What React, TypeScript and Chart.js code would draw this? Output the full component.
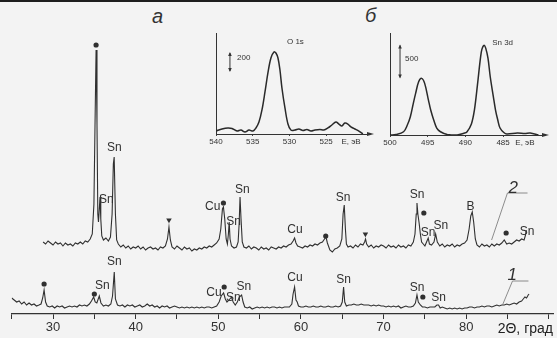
import React, { useEffect, useRef } from "react";
import { Chart, registerables } from "chart.js";

Chart.register(...registerables);

const FONT = "'Liberation Sans', Arial, sans-serif";
const INK = "#303030";

// ---------- main XRD patterns: [2θ (deg), intensity (arb. units)] ----------
const pattern2: [number, number][] = [
  [28.8, 72], [29.1, 70], [29.4, 73], [29.7, 71], [30.0, 69], [30.3, 72], [30.6, 70], [30.9, 71],
  [31.2, 68], [31.5, 71], [31.8, 69], [32.1, 70], [32.4, 68], [32.7, 71], [33.0, 70], [33.3, 72],
  [33.6, 70], [33.9, 73], [34.2, 72], [34.5, 75], [34.75, 80], [34.95, 110], [35.1, 200], [35.21, 264],
  [35.32, 190], [35.42, 100], [35.5, 92], [35.6, 105], [35.69, 117], [35.78, 95], [35.9, 78], [36.1, 74],
  [36.4, 76], [36.7, 73], [36.95, 77], [37.15, 100], [37.3, 150], [37.4, 157], [37.55, 100], [37.7, 74],
  [37.9, 70], [38.2, 67], [38.5, 69], [38.8, 66], [39.1, 68], [39.4, 65], [39.7, 67], [40.0, 66],
  [40.3, 68], [40.6, 65], [40.9, 67], [41.2, 64], [41.5, 66], [41.8, 67], [42.1, 65], [42.4, 66],
  [42.7, 64], [43.0, 67], [43.3, 66], [43.6, 68], [43.85, 75], [44.03, 87], [44.2, 74], [44.4, 67],
  [44.7, 65], [45.0, 68], [45.3, 66], [45.6, 64], [45.9, 67], [46.2, 65], [46.5, 66], [46.8, 63],
  [47.1, 65], [47.4, 64], [47.7, 66], [48.0, 65], [48.3, 67], [48.6, 66], [48.9, 68], [49.2, 67],
  [49.5, 69], [49.8, 71], [50.1, 75], [50.3, 85], [50.5, 105], [50.62, 107], [50.78, 95], [50.95, 75],
  [51.1, 70], [51.22, 80], [51.32, 92], [51.42, 75], [51.6, 68], [51.9, 66], [52.2, 67], [52.4, 72],
  [52.52, 90], [52.63, 117], [52.75, 95], [52.9, 72], [53.1, 67], [53.4, 66], [53.7, 68], [54.0, 65],
  [54.3, 67], [54.6, 66], [54.9, 64], [55.2, 67], [55.5, 65], [55.8, 66], [56.1, 64], [56.4, 67],
  [56.7, 66], [57.0, 65], [57.3, 67], [57.6, 66], [57.9, 68], [58.2, 67], [58.5, 69], [58.8, 70],
  [59.05, 73], [59.23, 76], [59.4, 71], [59.6, 68], [59.9, 67], [60.2, 66], [60.5, 68], [60.8, 67],
  [61.1, 69], [61.4, 68], [61.7, 70], [62.0, 69], [62.3, 71], [62.6, 72], [62.85, 75], [63.03, 77],
  [63.2, 71], [63.5, 64], [63.8, 62], [64.1, 65], [64.4, 66], [64.7, 68], [64.95, 75], [65.1, 100],
  [65.24, 109], [65.38, 85], [65.5, 70], [65.7, 67], [66.0, 68], [66.3, 66], [66.6, 69], [66.9, 67],
  [67.2, 70], [67.5, 69], [67.7, 72], [67.82, 75], [67.95, 70], [68.2, 67], [68.5, 69], [68.8, 66],
  [69.1, 68], [69.4, 67], [69.7, 69], [70.0, 68], [70.3, 66], [70.6, 69], [70.9, 67], [71.2, 68],
  [71.5, 66], [71.8, 69], [72.1, 67], [72.4, 68], [72.7, 66], [73.0, 69], [73.3, 68], [73.6, 72],
  [73.8, 80], [73.95, 100], [74.04, 111], [74.15, 100], [74.3, 91], [74.45, 80], [74.6, 72], [74.8, 70],
  [75.0, 68], [75.2, 72], [75.4, 76], [75.55, 70], [75.8, 69], [76.1, 72], [76.3, 80], [76.5, 72],
  [76.8, 68], [77.1, 70], [77.4, 67], [77.7, 69], [78.0, 68], [78.3, 70], [78.6, 67], [78.9, 69],
  [79.2, 68], [79.5, 70], [79.8, 71], [80.1, 74], [80.35, 85], [80.55, 98], [80.73, 102], [80.9, 92],
  [81.1, 75], [81.3, 69], [81.6, 67], [81.9, 70], [82.2, 68], [82.5, 69], [82.8, 67], [83.1, 70],
  [83.4, 68], [83.7, 70], [84.0, 69], [84.3, 71], [84.6, 74], [84.9, 70], [85.2, 71], [85.5, 70],
  [85.8, 72], [86.1, 74], [86.4, 73], [86.7, 75], [87.0, 74], [87.15, 78], [87.26, 84],
];

const pattern1: [number, number][] = [
  [25.0, 16], [25.3, 14], [25.6, 12], [25.9, 13], [26.2, 10], [26.5, 12], [26.8, 9], [27.1, 11],
  [27.4, 9], [27.7, 10], [28.0, 8], [28.3, 9], [28.55, 10], [28.75, 16], [28.92, 24], [29.1, 12],
  [29.3, 8], [29.6, 7], [29.9, 8], [30.2, 6], [30.5, 8], [30.8, 7], [31.1, 8], [31.4, 6],
  [31.7, 7], [32.0, 8], [32.3, 7], [32.6, 8], [32.9, 7], [33.2, 9], [33.5, 8], [33.8, 9],
  [34.1, 8], [34.4, 10], [34.65, 13], [34.92, 17], [35.1, 12], [35.3, 11], [35.6, 18], [35.8, 11],
  [36.1, 8], [36.4, 9], [36.7, 8], [37.0, 10], [37.2, 18], [37.41, 42], [37.55, 15], [37.8, 9],
  [38.1, 8], [38.4, 9], [38.7, 7], [39.0, 9], [39.3, 8], [39.6, 9], [39.9, 7], [40.2, 8],
  [40.5, 9], [40.8, 7], [41.1, 8], [41.4, 10], [41.7, 8], [42.0, 9], [42.3, 7], [42.6, 8],
  [42.9, 6], [43.2, 8], [43.5, 7], [43.8, 8], [44.1, 6], [44.4, 7], [44.7, 8], [45.0, 7],
  [45.3, 6], [45.6, 7], [45.9, 6], [46.2, 7], [46.5, 6], [46.8, 7], [47.1, 6], [47.4, 7],
  [47.7, 6], [48.0, 7], [48.3, 6], [48.6, 7], [48.9, 7], [49.2, 6], [49.5, 7], [49.8, 8],
  [50.1, 12], [50.35, 18], [50.64, 21], [50.85, 15], [51.05, 12], [51.3, 14], [51.6, 17], [51.8, 12],
  [52.05, 9], [52.3, 12], [52.55, 17], [52.82, 19], [53.0, 12], [53.2, 7], [53.5, 6], [53.8, 7],
  [54.1, 5], [54.4, 6], [54.7, 7], [55.0, 6], [55.3, 7], [55.6, 6], [55.9, 7], [56.2, 6],
  [56.5, 7], [56.8, 7], [57.1, 6], [57.4, 7], [57.7, 6], [58.0, 7], [58.3, 7], [58.6, 7],
  [58.9, 10], [59.05, 20], [59.23, 27], [59.4, 14], [59.55, 12], [59.7, 8], [60.0, 7], [60.3, 7],
  [60.6, 8], [60.9, 7], [61.2, 7], [61.5, 8], [61.8, 7], [62.1, 7], [62.4, 8], [62.7, 7],
  [63.0, 7], [63.3, 8], [63.6, 7], [63.9, 7], [64.2, 8], [64.5, 7], [64.8, 8], [65.0, 12],
  [65.16, 27], [65.3, 12], [65.5, 8], [65.8, 9], [66.1, 9], [66.4, 10], [66.7, 9], [67.0, 9],
  [67.3, 10], [67.6, 9], [67.9, 9], [68.2, 9], [68.5, 8], [68.8, 9], [69.1, 8], [69.4, 9],
  [69.7, 8], [70.0, 8], [70.3, 7], [70.6, 8], [70.9, 7], [71.2, 8], [71.5, 7], [71.8, 8],
  [72.1, 6], [72.4, 7], [72.7, 8], [73.0, 7], [73.3, 7], [73.6, 8], [73.85, 11], [74.04, 19],
  [74.2, 12], [74.45, 9], [74.7, 7], [75.0, 7], [75.3, 6], [75.6, 7], [75.9, 7], [76.2, 7],
  [76.45, 9], [76.65, 9], [76.85, 6], [77.1, 7], [77.4, 6], [77.7, 5], [78.0, 6], [78.3, 5],
  [78.6, 6], [78.9, 5], [79.2, 6], [79.5, 5], [79.8, 6], [80.1, 6], [80.4, 7], [80.7, 7],
  [81.0, 6], [81.3, 7], [81.6, 7], [81.9, 8], [82.2, 7], [82.5, 8], [82.8, 8], [83.1, 7],
  [83.4, 8], [83.7, 9], [84.0, 8], [84.3, 9], [84.6, 9], [84.9, 10], [85.2, 9], [85.5, 10],
  [85.8, 11], [86.1, 10], [86.4, 12], [86.7, 13], [86.9, 15], [87.1, 17], [87.3, 16], [87.5, 19],
  [87.6, 20],
];

const xrdTickValues = [25, 30, 35, 40, 45, 50, 55, 60, 65, 70, 75, 80, 85, 90];
const xrdTickLabels = [30, 40, 50, 60, 70, 80];

// phase labels: [2θ, intensity, text]
const phaseLabels2: [number, number, string][] = [
  [37.42, 166, "Sn"], [36.45, 114, "Sn"], [49.32, 107, "Cu"], [51.84, 92, "Sn"], [52.9, 124, "Sn"],
  [59.27, 84, "Cu"], [65.1, 116, "Sn"], [74.04, 119, "Sn"], [75.39, 81, "Sn"], [76.92, 88, "Sn"],
  [80.53, 107, "B"], [87.35, 82, "Sn"],
];
const phaseLabels1: [number, number, string][] = [
  [35.96, 28, "Sn"], [37.42, 52, "Sn"], [49.48, 21, "Cu"], [51.82, 16, "Sn"], [53.08, 27, "Sn"],
  [59.27, 36, "Cu"], [65.15, 34, "Sn"], [74.04, 26, "Sn"], [76.67, 16, "Sn"],
];
const dotMarks: [number, number][] = [
  [35.21, 269], [50.62, 111], [63.0, 78], [74.87, 101], [84.83, 81],
  [28.92, 30], [35.0, 20], [50.71, 27], [74.75, 17],
];
const triangleMarks: [number, number][] = [[44.03, 94], [67.8, 80]];
const curveNames: [number, number, string][] = [[85.7, 126, "2"], [85.58, 39, "1"]];
const leader2: [number, number][] = [[87.42, 121], [84.99, 121], [83.07, 74]];
const leader1: [number, number][] = [[87.53, 33], [85.6, 33], [84.39, 9]];

// ---------- XPS insets: [binding energy (eV), counts] ----------
const o1sSpectrum: [number, number][] = [
  [540.0, 33], [539.18, 56], [538.37, 67], [537.82, 61], [537.14, 33], [536.6, 44], [536.05, 22],
  [535.51, 44], [534.97, 33], [534.56, 67], [534.15, 133], [533.74, 267], [533.33, 467], [532.93, 678],
  [532.52, 844], [532.11, 911], [531.84, 900], [531.56, 844], [531.29, 711], [531.02, 511], [530.61, 289],
  [530.2, 111], [529.8, 44], [529.25, 44], [528.71, 56], [528.16, 39], [527.62, 50], [527.07, 33],
  [526.53, 44], [525.85, 50], [525.31, 44], [524.76, 67], [524.22, 100], [523.67, 133], [523.27, 111],
  [522.86, 89], [522.45, 122], [522.04, 111], [521.63, 78], [521.09, 56], [520.54, 33], [520.0, 0],
];
const sn3dSpectrum: [number, number][] = [
  [500.0, 0], [499.2, 8], [498.2, 51], [497.7, 156], [497.3, 285], [496.9, 499], [496.6, 650],
  [496.2, 831], [495.8, 885], [495.4, 807], [494.9, 546], [494.6, 390], [494.2, 234], [493.8, 109],
  [493.3, 51], [492.4, 8], [491.1, 0], [490.2, 27], [489.8, 47], [489.2, 172], [488.8, 390],
  [488.4, 780], [488.0, 1201], [487.8, 1342], [487.5, 1404], [487.3, 1357], [487.0, 1201], [486.7, 910],
  [486.3, 608], [486.0, 390], [485.7, 234], [485.4, 109], [484.9, 39], [484.5, 16], [483.1, 31],
  [482.1, 23], [481.4, 31], [480.3, 0],
];
const o1sTicks = [540, 535, 530, 525];
const sn3dTicks = [500, 495, 490, 485];

type Pt = [number, number];
const toXY = (arr: Pt[]) => arr.map(([x, y]) => ({ x, y }));

const mainAnnotations = {
  id: "mainAnnotations",
  afterDatasetsDraw(chart: any) {
    const { ctx, scales } = chart;
    const x = scales.x;
    const y = scales.y;
    ctx.save();
    ctx.strokeStyle = "#808080";
    ctx.lineWidth = 0.9;
    [leader2, leader1].forEach((pts) => {
      ctx.beginPath();
      pts.forEach(([a, b], i) => {
        const px = x.getPixelForValue(a);
        const py = y.getPixelForValue(b);
        if (i === 0) ctx.moveTo(px, py);
        else ctx.lineTo(px, py);
      });
      ctx.stroke();
    });
    ctx.fillStyle = INK;
    ctx.textAlign = "center";
    ctx.textBaseline = "middle";
    ctx.font = `12px ${FONT}`;
    [...phaseLabels2, ...phaseLabels1].forEach(([a, b, t]) => {
      ctx.fillText(t, x.getPixelForValue(a), y.getPixelForValue(b));
    });
    ctx.font = `italic 17px ${FONT}`;
    curveNames.forEach(([a, b, t]) => {
      ctx.fillText(t, x.getPixelForValue(a), y.getPixelForValue(b));
    });
    ctx.restore();
  },
};

type InsetOpts = {
  data: Pt[];
  min: number;
  max: number;
  yMax: number;
  ticks: number[];
  area: { left: number; right: number; top: number; bottom: number };
  bar: { x: number; from: number; to: number; label: string; lx: number; ly: number };
  title: { x: number; y: number; text: string };
  unitX: number;
};

function makeInset(canvas: HTMLCanvasElement, o: InsetOpts) {
  const W = 557;
  const H = 338;
  const axisH = 14;
  const plugin = {
    id: "insetDecor",
    afterDatasetsDraw(chart: any) {
      const { ctx, scales, chartArea } = chart;
      const x = scales.x;
      const y = scales.y;
      ctx.save();
      ctx.strokeStyle = "#333";
      ctx.fillStyle = "#333";
      ctx.lineWidth = 1;
      // arrow at the end of the energy axis
      const r = chartArea.right;
      const b = chartArea.bottom;
      ctx.beginPath();
      ctx.moveTo(r - 1, b);
      ctx.lineTo(r + 3, b);
      ctx.stroke();
      ctx.beginPath();
      ctx.moveTo(r + 6, b);
      ctx.lineTo(r - 1, b - 2);
      ctx.lineTo(r - 1, b + 2);
      ctx.closePath();
      ctx.fill();
      // scale bar
      const bx = x.getPixelForValue(o.bar.x);
      const y1 = y.getPixelForValue(o.bar.from);
      const y2 = y.getPixelForValue(o.bar.to);
      ctx.beginPath();
      ctx.moveTo(bx, y1);
      ctx.lineTo(bx, y2);
      ctx.stroke();
      ctx.beginPath();
      ctx.moveTo(bx, y2 - 1);
      ctx.lineTo(bx - 1.8, y2 + 3);
      ctx.lineTo(bx + 1.8, y2 + 3);
      ctx.closePath();
      ctx.fill();
      ctx.beginPath();
      ctx.moveTo(bx, y1 + 1);
      ctx.lineTo(bx - 1.8, y1 - 3);
      ctx.lineTo(bx + 1.8, y1 - 3);
      ctx.closePath();
      ctx.fill();
      ctx.font = `8px ${FONT}`;
      ctx.textAlign = "left";
      ctx.textBaseline = "middle";
      ctx.fillText(o.bar.label, x.getPixelForValue(o.bar.lx), y.getPixelForValue(o.bar.ly));
      ctx.fillText(o.title.text, x.getPixelForValue(o.title.x), y.getPixelForValue(o.title.y));
      ctx.textAlign = "center";
      ctx.fillText("E, эВ", x.getPixelForValue(o.unitX), b + 8);
      ctx.restore();
    },
  };
  return new Chart(canvas, {
    type: "line",
    data: {
      datasets: [
        {
          data: toXY(o.data),
          borderColor: "#2a2a2a",
          borderWidth: 1.5,
          pointRadius: 0,
          tension: 0.35,
          fill: false,
        },
      ],
    },
    options: {
      animation: false,
      responsive: false,
      devicePixelRatio: 1,
      events: [],
      layout: {
        padding: {
          left: o.area.left,
          right: W - o.area.right,
          top: o.area.top,
          bottom: H - o.area.bottom - axisH,
        },
      },
      plugins: { legend: { display: false }, tooltip: { enabled: false }, title: { display: false } },
      scales: {
        x: {
          type: "linear",
          min: o.min,
          max: o.max,
          reverse: true,
          afterBuildTicks: (s: any) => {
            s.ticks = o.ticks.map((v) => ({ value: v }));
          },
          afterFit: (s: any) => {
            s.height = axisH;
          },
          ticks: {
            autoSkip: false,
            maxRotation: 0,
            padding: 1,
            color: "#333",
            font: { family: FONT, size: 8 },
            callback: (v: any) => String(v),
          },
          grid: { drawOnChartArea: false, tickLength: 2, color: "#444", lineWidth: 1 },
          border: { color: "#333", width: 1 },
        },
        y: {
          type: "linear",
          min: 0,
          max: o.yMax,
          afterFit: (s: any) => {
            s.width = 0;
          },
          ticks: { display: false },
          grid: { display: false },
          border: { color: "#333", width: 1 },
        },
      },
    },
    plugins: [plugin],
  });
}

export default function App() {
  const mainRef = useRef<HTMLCanvasElement>(null);
  const aRef = useRef<HTMLCanvasElement>(null);
  const bRef = useRef<HTMLCanvasElement>(null);

  useEffect(() => {
    const charts: Chart[] = [];
    if (mainRef.current) {
      charts.push(
        new Chart(mainRef.current, {
          type: "line",
          data: {
            datasets: [
              { data: toXY(pattern2), borderColor: INK, borderWidth: 1.1, pointRadius: 0, tension: 0, fill: false },
              { data: toXY(pattern1), borderColor: INK, borderWidth: 1.1, pointRadius: 0, tension: 0, fill: false },
              {
                type: "scatter",
                data: toXY(dotMarks),
                pointStyle: "circle",
                pointRadius: 2.6,
                backgroundColor: INK,
                borderWidth: 0,
              } as any,
              {
                type: "scatter",
                data: toXY(triangleMarks),
                pointStyle: "triangle",
                rotation: 180,
                pointRadius: 3.2,
                backgroundColor: INK,
                borderWidth: 0,
              } as any,
            ],
          },
          options: {
            animation: false,
            responsive: false,
            devicePixelRatio: 1,
            events: [],
            layout: { padding: { left: 11.7, right: 0, top: 14, bottom: 0 } },
            plugins: { legend: { display: false }, tooltip: { enabled: false } },
            scales: {
              x: {
                type: "linear",
                min: 25,
                max: 90.5,
                afterBuildTicks: (s: any) => {
                  s.ticks = xrdTickValues.map((v) => ({ value: v }));
                },
                afterFit: (s: any) => {
                  s.height = 24;
                },
                ticks: {
                  autoSkip: false,
                  maxRotation: 0,
                  padding: 1,
                  color: "#333",
                  font: { family: FONT, size: 13 },
                  callback: (v: any) => (xrdTickLabels.includes(Number(v)) ? String(v) : ""),
                },
                grid: { drawOnChartArea: false, tickLength: 5, color: "#333", lineWidth: 1 },
                border: { color: "#333", width: 1.3 },
                title: {
                  display: true,
                  text: "2Θ, град",
                  align: "end",
                  color: "#222",
                  font: { family: FONT, size: 14 },
                  padding: 0,
                },
              },
              y: { display: false, min: 0, max: 300 },
            },
          },
          plugins: [mainAnnotations],
        })
      );
    }
    if (aRef.current) {
      charts.push(
        makeInset(aRef.current, {
          data: o1sSpectrum,
          min: 519.3,
          max: 540,
          yMax: 1122,
          ticks: o1sTicks,
          area: { left: 216, right: 368, top: 33, bottom: 134 },
          bar: { x: 538.1, from: 700, to: 900, label: "200", lx: 537.14, ly: 844 },
          title: { x: 530.34, y: 1022, text: "O 1s" },
          unitX: 521.6,
        })
      );
    }
    if (bRef.current) {
      charts.push(
        makeInset(bRef.current, {
          data: sn3dSpectrum,
          min: 479.7,
          max: 500,
          yMax: 1594,
          ticks: sn3dTicks,
          area: { left: 390, right: 543, top: 33, bottom: 135 },
          bar: { x: 498.67, from: 900, to: 1400, label: "500", lx: 498.0, ly: 1188 },
          title: { x: 486.45, y: 1437, text: "Sn 3d" },
          unitX: 482.1,
        })
      );
    }
    return () => charts.forEach((c) => c.destroy());
  }, []);

  const canvasStyle: React.CSSProperties = { position: "absolute", left: 0, top: 0, width: 557, height: 338 };
  const letter: React.CSSProperties = {
    position: "absolute",
    fontFamily: FONT,
    fontStyle: "italic",
    fontSize: 20,
    lineHeight: "23px",
    color: "#333",
  };

  return (
    <div
      style={{
        position: "fixed",
        left: 0,
        top: 0,
        width: 557,
        height: 338,
        overflow: "hidden",
        background: "#f3f3f3",
      }}
    >
      <div style={{ position: "absolute", left: 0, top: 0, width: 557, height: 2, background: "#1e1e1e" }} />
      <span style={{ ...letter, left: 152, top: 5 }}>а</span>
      <span style={{ ...letter, left: 365, top: 4 }}>б</span>
      <canvas ref={mainRef} width={557} height={338} style={canvasStyle} />
      <canvas ref={aRef} width={557} height={338} style={canvasStyle} />
      <canvas ref={bRef} width={557} height={338} style={canvasStyle} />
    </div>
  );
}
